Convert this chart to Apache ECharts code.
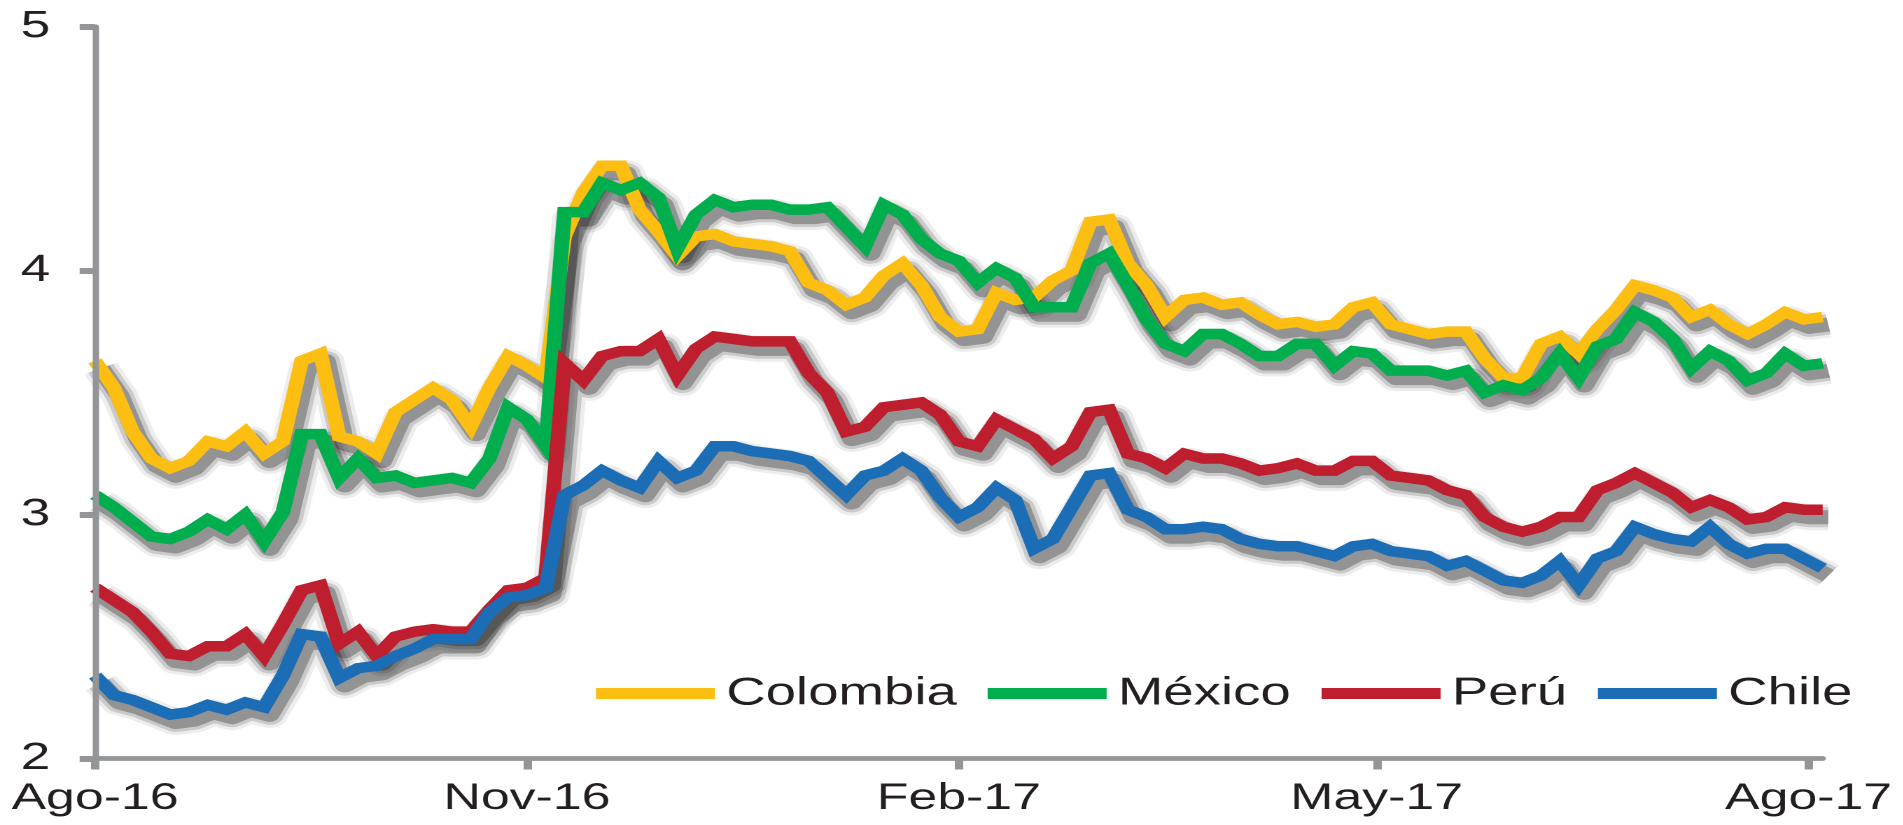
<!DOCTYPE html>
<html>
<head>
<meta charset="utf-8">
<script src="https://cdn.jsdelivr.net/npm/echarts@6/dist/echarts.min.js"></script>
<style>
  html, body { margin: 0; padding: 0; background: #fff; overflow: hidden; }
  #wrap { width: 1903px; height: 825px; overflow: hidden; background: #fff; }
  /* chart is laid out narrower and widened horizontally */
  #chart { width: 1359.3px; height: 825px; transform: scaleX(1.4); transform-origin: 0 0; }
</style>
</head>
<body>
<div id="wrap"><div id="chart"></div></div>
<script>
// Sample dates (every four days)
const dates = [
  '2016-08-01','2016-08-05','2016-08-09','2016-08-13','2016-08-17','2016-08-21','2016-08-25','2016-08-29',
  '2016-09-02','2016-09-06','2016-09-10','2016-09-14','2016-09-18','2016-09-22','2016-09-26','2016-09-30',
  '2016-10-04','2016-10-08','2016-10-12','2016-10-16','2016-10-20','2016-10-24','2016-10-28','2016-11-01',
  '2016-11-05','2016-11-09','2016-11-13','2016-11-17','2016-11-21','2016-11-25','2016-11-29','2016-12-03',
  '2016-12-07','2016-12-11','2016-12-15','2016-12-19','2016-12-23','2016-12-27','2016-12-31','2017-01-04',
  '2017-01-08','2017-01-12','2017-01-16','2017-01-20','2017-01-24','2017-01-28','2017-02-01','2017-02-05',
  '2017-02-09','2017-02-13','2017-02-17','2017-02-21','2017-02-25','2017-03-01','2017-03-05','2017-03-09',
  '2017-03-13','2017-03-17','2017-03-21','2017-03-25','2017-03-29','2017-04-02','2017-04-06','2017-04-10',
  '2017-04-14','2017-04-18','2017-04-22','2017-04-26','2017-04-30','2017-05-04','2017-05-08','2017-05-12',
  '2017-05-16','2017-05-20','2017-05-24','2017-05-28','2017-06-01','2017-06-05','2017-06-09','2017-06-13',
  '2017-06-17','2017-06-21','2017-06-25','2017-06-29','2017-07-03','2017-07-07','2017-07-11','2017-07-15',
  '2017-07-19','2017-07-23','2017-07-27','2017-07-31','2017-08-04'
];

const colombia = [
  3.63,3.52,3.34,3.23,3.19,3.22,3.30,3.28,3.34,3.25,3.30,3.63,3.66,3.32,3.30,3.25,
  3.42,3.47,3.52,3.47,3.36,3.52,3.65,3.61,3.56,4.14,4.32,4.43,4.43,4.25,4.16,4.06,
  4.14,4.15,4.12,4.11,4.10,4.08,3.95,3.92,3.86,3.89,3.98,4.03,3.94,3.81,3.75,3.76,
  3.91,3.88,3.89,3.96,4.00,4.20,4.21,4.03,3.94,3.81,3.88,3.89,3.86,3.87,3.82,3.78,
  3.79,3.77,3.78,3.85,3.87,3.78,3.76,3.74,3.75,3.75,3.64,3.56,3.56,3.70,3.73,3.66,
  3.76,3.84,3.94,3.92,3.89,3.81,3.84,3.78,3.74,3.78,3.83,3.80,3.81
];

const mexico = [
  3.08,3.03,2.97,2.91,2.90,2.93,2.98,2.94,3.00,2.89,3.01,3.33,3.33,3.15,3.23,3.15,
  3.16,3.13,3.14,3.15,3.13,3.23,3.44,3.39,3.28,4.24,4.24,4.36,4.33,4.36,4.30,4.09,
  4.23,4.29,4.26,4.27,4.27,4.25,4.25,4.26,4.18,4.10,4.27,4.23,4.13,4.07,4.04,3.95,
  4.01,3.97,3.85,3.85,3.85,4.03,4.07,3.94,3.80,3.70,3.67,3.74,3.74,3.70,3.65,3.65,
  3.70,3.70,3.61,3.67,3.66,3.59,3.59,3.59,3.57,3.59,3.50,3.53,3.51,3.56,3.66,3.56,
  3.69,3.72,3.83,3.79,3.72,3.60,3.67,3.63,3.55,3.58,3.66,3.61,3.62
];

const peru = [
  2.70,2.65,2.60,2.52,2.43,2.42,2.46,2.46,2.51,2.42,2.55,2.69,2.71,2.47,2.52,2.42,
  2.50,2.52,2.53,2.52,2.52,2.61,2.69,2.70,2.74,3.62,3.55,3.65,3.67,3.67,3.72,3.57,
  3.68,3.73,3.72,3.71,3.71,3.71,3.58,3.50,3.34,3.36,3.44,3.45,3.46,3.41,3.30,3.28,
  3.39,3.35,3.31,3.23,3.28,3.42,3.43,3.25,3.23,3.19,3.25,3.23,3.23,3.21,3.18,3.19,
  3.21,3.18,3.18,3.22,3.22,3.16,3.15,3.14,3.10,3.08,2.99,2.95,2.93,2.95,2.99,2.99,
  3.10,3.13,3.17,3.13,3.09,3.03,3.06,3.03,2.98,2.99,3.03,3.02,3.02
];

const chile = [
  2.34,2.26,2.24,2.21,2.18,2.19,2.22,2.20,2.23,2.21,2.34,2.51,2.50,2.33,2.37,2.38,
  2.42,2.45,2.49,2.49,2.49,2.60,2.66,2.67,2.70,3.08,3.12,3.18,3.14,3.11,3.22,3.15,
  3.18,3.28,3.28,3.26,3.25,3.24,3.22,3.15,3.08,3.16,3.18,3.23,3.18,3.07,2.99,3.03,
  3.11,3.06,2.86,2.90,3.03,3.16,3.17,3.02,2.99,2.94,2.94,2.95,2.94,2.90,2.88,2.87,
  2.87,2.85,2.83,2.87,2.88,2.85,2.84,2.83,2.79,2.81,2.77,2.73,2.72,2.75,2.81,2.71,
  2.82,2.85,2.95,2.92,2.90,2.89,2.95,2.88,2.84,2.86,2.86,2.82,2.78
];

const tickDates = ['2016-08-01', '2016-11-01', '2017-02-01', '2017-05-01', '2017-08-01'];
const tickLabels = ['Ago-16', 'Nov-16', 'Feb-17', 'May-17', 'Ago-17'];
const seriesNames = ['Colombia', 'México', 'Perú', 'Chile'];
const seriesColors = ['#FDBE12', '#00AE4D', '#BE1E2D', '#1B6DB6'];

const START = '2016-08-01';
const END = '2017-08-04';
const DAY = 86400000;

// day offset of a date string from the first day shown
function dayOf(s) {
  const p = s.split('-').map(Number);
  const q = START.split('-').map(Number);
  return Math.round((Date.UTC(p[0], p[1] - 1, p[2]) - Date.UTC(q[0], q[1] - 1, q[2])) / DAY);
}

const tickDays = tickDates.map(dayOf);
const FONT = "'Liberation Sans', Arial, Helvetica, sans-serif";
const INK = '#231F20';
const AXIS = '#939598';
const LINE_W = 10.5;

function pairs(values) {
  return dates.map((d, i) => [dayOf(d), values[i]]);
}

const valueSets = [colombia, mexico, peru, chile];
const GRID = { left: 67.9, right: 57.1, top: 26.7, bottom: 66.5 };
const SHADOW_DX = 4;
const SHADOW_DY = 7.5;
// soft drop shadow built from stacked translucent strokes (wide & faint to narrow & darker)
const shadowLayers = [
  { width: 26, alpha: 0.08 },
  { width: 20, alpha: 0.16 },
  { width: 14, alpha: 0.30 }
];

const shadowSeries = [];
shadowLayers.forEach((layer, li) => {
  seriesNames.forEach((name, i) => {
    shadowSeries.push({
      name: 'sombra-' + li + '-' + name,
      type: 'line',
      xAxisIndex: 1,
      yAxisIndex: 1,
      data: pairs(valueSets[i]),
      symbol: 'none',
      silent: true,
      z: 1,
      lineStyle: { color: 'rgba(20,20,20,' + layer.alpha + ')', width: layer.width, join: 'round', cap: 'butt' },
      emphasis: { disabled: true }
    });
  });
});

const mainSeries = seriesNames.map((name, i) => ({
  name: name,
  type: 'line',
  xAxisIndex: 0,
  yAxisIndex: 0,
  data: pairs(valueSets[i]),
  symbol: 'none',
  smooth: false,
  z: 3,
  color: seriesColors[i],
  lineStyle: { color: seriesColors[i], width: LINE_W, join: 'miter' },
  emphasis: { disabled: true }
}));

const chart = echarts.init(document.getElementById('chart'), null, { renderer: 'canvas', devicePixelRatio: 2 });
chart.setOption({
  animation: false,
  backgroundColor: '#ffffff',
  grid: [
    GRID,
    { left: GRID.left + SHADOW_DX, right: GRID.right - SHADOW_DX, top: GRID.top + SHADOW_DY, bottom: GRID.bottom - SHADOW_DY }
  ],
  legend: {
    data: seriesNames,
    left: 420.7,
    top: 669,
    orient: 'horizontal',
    itemWidth: 85,
    itemHeight: 11,
    itemGap: 22,
    icon: 'rect',
    selectedMode: false,
    textStyle: { fontFamily: FONT, fontSize: 39, color: INK, padding: [0, 0, 0, 3] }
  },
  xAxis: [
    {
      type: 'value',
      gridIndex: 0,
      min: 0,
      max: dayOf(END),
      z: 4,
      axisLine: { show: true, onZero: false, lineStyle: { color: AXIS, width: 4.7 } },
      axisTick: {
        show: true,
        customValues: tickDays,
        length: 11,
        lineStyle: { color: AXIS, width: 6 }
      },
      axisLabel: {
        show: true,
        customValues: tickDays,
        margin: 22,
        fontFamily: FONT,
        fontSize: 37,
        color: INK,
        formatter: function (val) {
          const i = tickDays.indexOf(Math.round(val));
          return i >= 0 ? tickLabels[i] : '';
        }
      },
      splitLine: { show: false }
    },
    { type: 'value', gridIndex: 1, min: 0, max: dayOf(END), show: false }
  ],
  yAxis: [
    {
      type: 'value',
      gridIndex: 0,
      min: 2,
      max: 5,
      interval: 1,
      z: 4,
      axisLine: { show: true, lineStyle: { color: AXIS, width: 4.5 } },
      axisTick: { show: true, length: 11, lineStyle: { color: AXIS, width: 6 } },
      axisLabel: { margin: 32, fontFamily: FONT, fontSize: 38, color: INK },
      splitLine: { show: false }
    },
    { type: 'value', gridIndex: 1, min: 2, max: 5, interval: 1, show: false }
  ],
  series: shadowSeries.concat(mainSeries)
});
</script>
</body>
</html>
